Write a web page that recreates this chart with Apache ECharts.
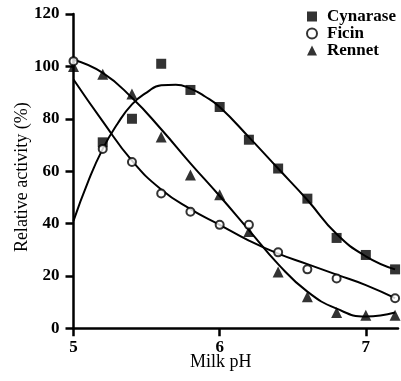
<!DOCTYPE html>
<html>
<head>
<meta charset="utf-8">
<script src="https://cdn.jsdelivr.net/npm/echarts@6/dist/echarts.min.js"></script>
<style>
  html, body { margin: 0; padding: 0; background: #fff; }
  #chart { width: 401px; height: 381px; }
</style>
</head>
<body>
<div id="chart"></div>
<script>
// Measured milk pH values
const pH = [5.0, 5.2, 5.4, 5.6, 5.8, 6.0, 6.2, 6.4, 6.6, 6.8, 7.0, 7.2];

// Relative activity (%) per enzyme; null = not measured
const cynarase = [null, 71, 80, 101, 91, 84.5, 72, 61, 49.5, 34.5, 28, 22.5];
const ficin    = [102, 68.5, 63.5, 51.5, 44.5, 39.5, 39.5, 29, 22.5, 19, null, 11.5];
const rennet   = [100, 97, 89.5, 73, 58.5, 51, 37, 21.5, 12, 6, 5, 5];

// Fitted trend curves
const cynarasePH  = [5.0, 5.1, 5.2, 5.3, 5.4, 5.5, 5.6, 5.7, 5.8, 5.9, 6.0, 6.2, 6.4, 6.6, 6.8, 7.0, 7.2];
const cynaraseFit = [41, 56, 68.5, 78, 85.5, 90, 92.8, 93, 91.5, 88.5, 84.5, 73, 61, 49, 36, 27.5, 22.5];
const ficinFit    = [95, 79, 64, 53, 45.5, 39.5, 33.5, 28.5, 24.5, 20.5, 16.5, 11.5];
const rennetFit   = [102.5, 97.5, 88, 76, 63, 50.5, 37.5, 24.5, 14, 7.5, 4.5, 6];

// Axis ticks
const xTicks = [5, 6, 7];
const yTicks = [0, 20, 40, 60, 80, 100, 120];

const FONT = '"Liberation Serif", "DejaVu Serif", serif';

function pairs(xs, ys) {
  const out = [];
  xs.forEach((x, i) => { if (ys[i] !== null) out.push([x, ys[i]]); });
  return out;
}

const lineStyle = { color: '#000', width: 2 };

const chart = echarts.init(document.getElementById('chart'), null, { renderer: 'canvas' });
chart.setOption({
  animation: false,
  backgroundColor: '#fff',
  grid: { left: 73.5, top: 14, right: 3, bottom: 52.7, containLabel: false, outerBoundsMode: 'none' },
  legend: {
    orient: 'vertical',
    left: 306,
    top: 8,
    padding: 0,
    itemGap: 0,
    itemWidth: 10,
    itemHeight: 10,
    textStyle: { fontFamily: FONT, fontSize: 17, fontWeight: 'bold', color: '#000', padding: [0, 0, 0, 5] },
    data: ['Cynarase', 'Ficin', 'Rennet']
  },
  xAxis: {
    type: 'value',
    min: 5,
    max: 7.22,
    interval: 1,
    name: 'Milk pH',
    nameLocation: 'middle',
    nameGap: 25,
    nameMoveOverlap: false,
    nameTextStyle: { fontFamily: FONT, fontSize: 18, color: '#000', padding: [0, 30, 0, 0] },
    axisLine: { show: true, lineStyle: { color: '#000', width: 2.5 } },
    axisTick: { show: true, length: 8, lineStyle: { color: '#000', width: 2.5 }, customValues: xTicks },
    axisLabel: { fontFamily: FONT, fontSize: 17, fontWeight: 'bold', color: '#000', margin: 11, customValues: xTicks },
    splitLine: { show: false }
  },
  yAxis: {
    type: 'value',
    min: 0,
    max: 120,
    interval: 20,
    name: 'Relative activity (%)',
    nameLocation: 'middle',
    nameGap: 42,
    nameMoveOverlap: false,
    nameTextStyle: { fontFamily: FONT, fontSize: 18, color: '#000', padding: [0, 12, 0, 0] },
    axisLine: { show: true, lineStyle: { color: '#000', width: 2.5 } },
    axisTick: { show: true, length: 8, lineStyle: { color: '#000', width: 2.5 }, customValues: yTicks },
    axisLabel: { fontFamily: FONT, fontSize: 17, fontWeight: 'bold', color: '#000', margin: 14, customValues: yTicks },
    splitLine: { show: false }
  },
  series: [
    { name: 'Cynarase curve', type: 'line', data: pairs(cynarasePH, cynaraseFit), smooth: 0.5,
      symbol: 'none', lineStyle, z: 2, silent: true },
    { name: 'Ficin curve', type: 'line', data: pairs(pH, ficinFit), smooth: 0.5,
      symbol: 'none', lineStyle, z: 2, silent: true },
    { name: 'Rennet curve', type: 'line', data: pairs(pH, rennetFit), smooth: 0.5,
      symbol: 'none', lineStyle, z: 2, silent: true },
    { name: 'Cynarase', type: 'scatter', data: pairs(pH, cynarase), symbol: 'rect', symbolSize: 10,
      itemStyle: { color: '#000' }, z: 5 },
    { name: 'Ficin', type: 'scatter', data: pairs(pH, ficin), symbol: 'circle', symbolSize: 8,
      itemStyle: { color: '#fff', borderColor: '#000', borderWidth: 2 }, z: 6 },
    { name: 'Rennet', type: 'scatter', data: pairs(pH, rennet), symbol: 'triangle', symbolSize: 11,
      itemStyle: { color: '#000' }, z: 5 }
  ]
});
</script>
</body>
</html>
